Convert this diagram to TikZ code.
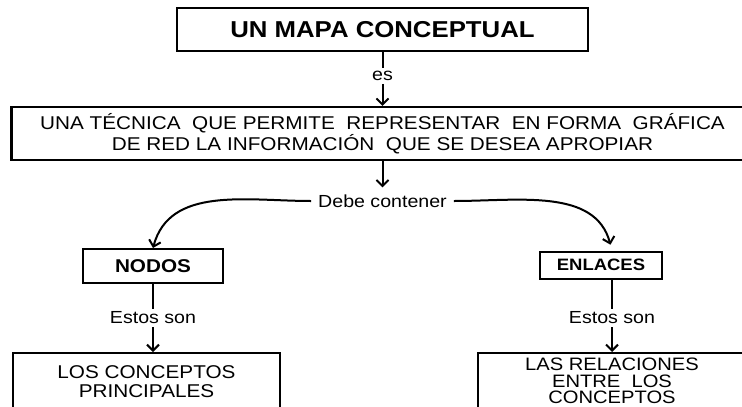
\documentclass[tikz,border=0pt]{standalone}
\usepackage{fontspec}
\setmainfont[FakeStretch=1.12]{Liberation Sans}
\usepackage{tikz}
\usetikzlibrary{arrows.meta,positioning}

\begin{document}
\begin{tikzpicture}[node distance = 2cm]
    \useasboundingbox (0,0) rectangle (742pt,-407pt);  % 页面大小

    \tikzstyle{titulo}=[rectangle,draw,line width=2.2pt,minimum width=411pt,minimum height=43pt,font=\fontsize{23pt}{24pt}\selectfont\bfseries]  % 标题框
    \tikzstyle{format}=[rectangle,draw,line width=2.2pt,align=center,font=\fontsize{18.5pt}{20.5pt}\selectfont]  % 定义语句块
    \tikzstyle{caja}=[rectangle,draw,line width=2pt,font=\fontsize{18.5pt}{20pt}\selectfont\bfseries]  % 小框,粗体
    \tikzstyle{concepto}=[rectangle,draw,line width=2pt,align=center,font=\fontsize{18.5pt}{19pt}\selectfont]  % 底部的框
    \tikzstyle{enlace}=[inner sep=3pt,font=\fontsize{17.5pt}{19pt}\selectfont]  % 连接词
    \tikzstyle{flecha}=[line width=2pt,-{Straight Barb[length=6pt,width=12pt]}]  % 箭头
    \tikzstyle{linea}=[line width=2pt]  % 无箭头的线

    % 定义note
    \node[titulo](mapa) at (382.5pt,-29.5pt){UN MAPA CONCEPTUAL};
    \node[enlace,below of=mapa,node distance=46.5pt](es){es};
    \node[format,below of=es,node distance=57.5pt,minimum width=742pt,minimum height=53pt](tecnica){UNA TÉCNICA \ QUE PERMITE \ REPRESENTAR \ EN FORMA \ GRÁFICA\\DE RED LA INFORMACIÓN \ QUE SE DESEA APROPIAR};
    \node[enlace,below of=tecnica,node distance=67.5pt,inner sep=7pt](debe){Debe contener};
    \node[caja,below of=debe,node distance=65pt,xshift=-229.5pt,minimum width=140pt,minimum height=34pt](nodos){NODOS};
    \node[caja,below of=debe,node distance=64pt,xshift=218.5pt,minimum width=122pt,minimum height=27pt,font=\fontsize{16.5pt}{18pt}\selectfont\bfseries](enlaces){ENLACES};
    \node[enlace,below of=nodos,node distance=52pt](son1){Estos son};
    \node[enlace,below of=enlaces,node distance=53pt,xshift=11pt](son2){Estos son};
    \node[concepto,below of=son1,node distance=64pt,xshift=-6.5pt,minimum width=267pt,minimum height=58pt](principales){LOS CONCEPTOS\\PRINCIPALES};
    \node[concepto,below of=son2,node distance=63pt,minimum width=268pt,minimum height=56pt,font=\fontsize{18pt}{16.5pt}\selectfont](relaciones){LAS RELACIONES\\ENTRE \ LOS\\CONCEPTOS};

    % 开始画线
    \draw[linea](mapa)--(es);
    \draw[flecha](es)--(tecnica);
    \draw[flecha](tecnica)--(debe);
    \draw[flecha](debe.west) to[out=180,in=75] (nodos.north);
    \draw[flecha,shorten >=6pt](debe.east) to[out=0,in=105] (enlaces.north -| son2);
    \draw[linea](nodos)--(son1);
    \draw[flecha](son1)--(son1 |- principales.north);
    \draw[linea](enlaces.south -| son2)--(son2);
    \draw[flecha](son2)--(relaciones);
\end{tikzpicture}
\end{document}
